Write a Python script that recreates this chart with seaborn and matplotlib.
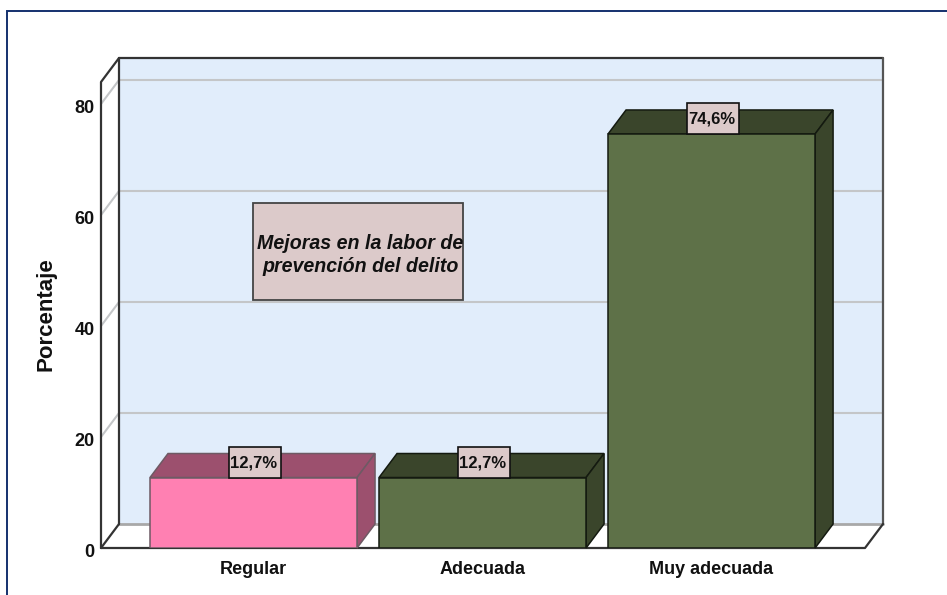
"""Mejoras en la labor de prevencion del delito - 3D style bar chart."""
import matplotlib
matplotlib.use('Agg')
import matplotlib.pyplot as plt
from matplotlib import font_manager
from matplotlib.patches import Polygon, Rectangle
from matplotlib.transforms import IdentityTransform, ScaledTranslation
import pandas as pd
import seaborn as sns

# ==========================================
# Data
# ==========================================
CATEGORIES = ['Regular', 'Adecuada', 'Muy adecuada']
VALUES = [12.7, 12.7, 74.6]
VALUE_LABELS = ['12,7%', '12,7%', '74,6%']
Y_TICKS = [0, 20, 40, 60, 80]

FRONT_COLORS = {'Regular': '#FF80B2', 'Adecuada': '#5E7148', 'Muy adecuada': '#5E7148'}
DARK_COLORS = {'Regular': '#9C506E', 'Adecuada': '#3A452B', 'Muy adecuada': '#3A452B'}
EDGE_COLORS = {'Regular': '#6E5A64', 'Adecuada': '#141a10', 'Muy adecuada': '#141a10'}
WALL = '#E1EDFB'
BOX = '#DCCACA'
W, H = 947, 595

sns.set_theme(style='white')
installed = {f.name for f in font_manager.fontManager.ttflist}
NARROW = 'Liberation Sans Narrow' if 'Liberation Sans Narrow' in installed else 'Liberation Sans'
plt.rcParams['font.family'] = 'Liberation Sans'

fig = plt.figure(figsize=(W / 100, H / 100), dpi=100, facecolor='white')

# outer frame, runs off the right and bottom of the picture
fig.add_artist(Rectangle((7 / W, -0.05), 1.1, 1.05 - 11 / H, transform=fig.transFigure,
                         fill=False, edgecolor='#14306E', linewidth=1.4))

# front plane of the chart box in pixels
ax = fig.add_axes([101 / W, (H - 548) / H, 764 / W, 466 / H])
ax.patch.set_visible(False)
for s in ax.spines.values():
    s.set_visible(False)

df = pd.DataFrame({'cat': CATEGORIES, 'val': VALUES})
sns.barplot(data=df, x='cat', y='val', hue='cat', palette=FRONT_COLORS, width=0.904,
            dodge=False, legend=False, saturation=1, ax=ax, zorder=3)
x0, x1 = -0.666, 2.67
y0, y1 = 0, 466 / 5.55
ax.set_xlim(x0, x1)
ax.set_ylim(y0, y1)

# depth of the fake 3D box, in data units
dx = 18 / 229
dy = 24 / 5.55


def poly(points, **kw):
    ax.add_patch(Polygon(points, closed=True, clip_on=False, **kw))


def line(xs, ys, color='#333333', lw=1.6, z=2):
    ax.plot(xs, ys, color=color, lw=lw, clip_on=False, zorder=z, solid_capstyle='round')


# walls
poly([(x0 + dx, dy), (x1 + dx, dy), (x1 + dx, y1 + dy), (x0 + dx, y1 + dy)],
     facecolor=WALL, edgecolor='none', zorder=0)
for t in Y_TICKS[1:]:
    line([x0, x0 + dx, x1 + dx], [t, t + dy, t + dy], color='#C4C6C8', lw=1.5, z=1)
line([x0 + dx, x1 + dx], [dy, dy], color='#A8A8A8', lw=2, z=1)
line([x0 + dx, x0 + dx], [dy, y1 + dy])
line([x0 + dx, x1 + dx], [y1 + dy, y1 + dy])
line([x1 + dx, x1 + dx], [dy, y1 + dy], color='#555555')
line([x0, x0, x0 + dx], [0, y1, y1 + dy])
line([x0, x0 + dx], [0, dy])
line([x0, x1, x1 + dx], [0, 0, dy], z=2)

# bar sides and tops, then the value boxes
for cat, bar, text in zip(CATEGORIES, ax.patches, VALUE_LABELS):
    bx, bw, bh = bar.get_x(), bar.get_width(), bar.get_height()
    edge = EDGE_COLORS[cat]
    bar.set_edgecolor(edge)
    bar.set_linewidth(1.1)
    poly([(bx, bh), (bx + bw, bh), (bx + bw + dx, bh + dy), (bx + dx, bh + dy)],
         facecolor=DARK_COLORS[cat], edgecolor=edge, linewidth=1.1, zorder=2.5)
    poly([(bx + bw, 0), (bx + bw + dx, dy), (bx + bw + dx, bh + dy), (bx + bw, bh)],
         facecolor=DARK_COLORS[cat], edgecolor=edge, linewidth=1.1, zorder=2.5)
    # box sits on the front top edge of the bar, 52x31 px
    px, py = ax.transData.transform((bx + bw / 2, bh))
    fig.add_artist(Rectangle((px - 25, py), 52, 31, transform=IdentityTransform(),
                             facecolor=BOX, edgecolor='#111111', linewidth=1.2, zorder=5))
    fig.text(px, py + 15, text, transform=IdentityTransform(), ha='center', va='center',
             fontsize=12, fontweight='bold', family=NARROW, color='#111111', zorder=6)

# chart title box
fig.add_artist(Rectangle((253 / W, (H - 300) / H), 210 / W, 97 / H, transform=fig.transFigure,
                         facecolor=BOX, edgecolor='#444444', linewidth=1.3, zorder=5))
fig.text(360.5 / W, (H - 255) / H, 'Mejoras en la labor de\nprevención del delito', ha='center', va='center',
         fontsize=14.1, fontweight='bold', fontstyle='italic', color='#111111', linespacing=1.27, zorder=6)

# axes text
ax.set_yticks(Y_TICKS)
ax.tick_params(axis='both', length=0)
ax.tick_params(axis='y', pad=4.5)
ax.tick_params(axis='x', pad=9)
shift = ScaledTranslation(0, -2.5 / 100, fig.dpi_scale_trans)
for lab in ax.get_yticklabels():
    lab.set_transform(lab.get_transform() + shift)
for lab in ax.get_xticklabels() + ax.get_yticklabels():
    lab.set_fontfamily(NARROW)
    lab.set_fontweight('bold')
    lab.set_fontsize(13)
    lab.set_color('#111111')
ax.set_xlabel('')
ax.set_ylabel('')
fig.text(45.5 / W, (H - 314) / H, 'Porcentaje', rotation=90, ha='center', va='center',
         fontsize=16, fontweight='bold', color='#111111')

fig.savefig('out.png', dpi=100)
